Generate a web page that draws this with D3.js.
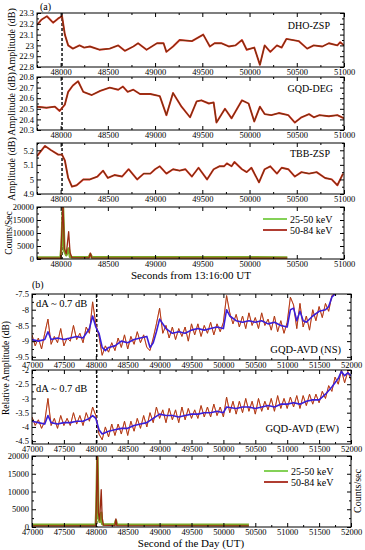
<!DOCTYPE html>
<html>
<head>
<meta charset="utf-8">
<script src="https://cdnjs.cloudflare.com/ajax/libs/d3/7.8.5/d3.min.js"></script>
<style>
body { margin: 0; background: #fff; }
svg { display: block; font-family: "Liberation Serif", "DejaVu Serif", serif; }
.axis text { font-size: 8.5px; fill: #000; font-family: "Liberation Serif", serif; }
.axis line { stroke: #000; }
</style>
</head>
<body>
<svg width="365" height="550"></svg>
<script>
// ---- panel (a): amplitudes, seconds from 13:16:00 UT ----
const aTicks = [48000, 48500, 49000, 49500, 50000, 50500, 51000];

const dhoT = [47750, 47800, 47855, 47920, 47975, 48015, 48045, 48080, 48130, 48200, 48250, 48310, 48410, 48520, 48610, 48680, 48770, 48820, 48910, 49020, 49090, 49120, 49190, 49260, 49390, 49510, 49580, 49630, 49700, 49780, 49850, 49920, 49970, 50050, 50110, 50160, 50220, 50290, 50340, 50390, 50520, 50610, 50680, 50770, 50840, 50930, 50960, 51000];
const dhoV = [23.19, 23.24, 23.27, 23.21, 23.25, 23.27, 23.1, 23.0, 22.97, 23.0, 22.98, 22.99, 22.96, 22.97, 23.0, 22.95, 22.99, 23.02, 22.96, 23.02, 23.02, 22.94, 22.99, 23.05, 23.04, 23.1, 22.99, 23.02, 23.02, 22.99, 23.0, 23.05, 22.96, 22.98, 22.82, 23.0, 22.94, 23.0, 22.98, 23.06, 23.04, 22.97, 23.0, 22.99, 23.02, 23.0, 23.03, 23.0];

const degT = [47750, 47850, 47940, 47990, 48045, 48080, 48130, 48185, 48240, 48330, 48420, 48520, 48610, 48660, 48710, 48770, 48840, 48950, 49050, 49120, 49190, 49280, 49370, 49440, 49490, 49570, 49620, 49650, 49740, 49810, 49920, 49990, 50050, 50110, 50160, 50230, 50310, 50410, 50480, 50550, 50630, 50680, 50740, 50840, 50930, 51000];
const degV = [20.52, 20.51, 20.52, 20.48, 20.54, 20.66, 20.72, 20.76, 20.66, 20.63, 20.67, 20.7, 20.68, 20.71, 20.66, 20.68, 20.64, 20.64, 20.62, 20.44, 20.65, 20.52, 20.42, 20.57, 20.58, 20.55, 20.56, 20.37, 20.5, 20.41, 20.58, 20.55, 20.38, 20.52, 20.45, 20.44, 20.46, 20.44, 20.37, 20.42, 20.45, 20.42, 20.44, 20.43, 20.44, 20.41];

const tbbT = [47750, 47835, 47900, 47975, 48015, 48045, 48080, 48120, 48170, 48240, 48310, 48390, 48450, 48500, 48570, 48650, 48720, 48810, 48880, 48950, 49000, 49050, 49120, 49190, 49260, 49320, 49390, 49460, 49550, 49620, 49680, 49730, 49760, 49810, 49840, 49920, 49970, 50020, 50100, 50160, 50220, 50290, 50340, 50410, 50480, 50550, 50630, 50710, 50800, 50870, 50930, 50990];
const tbbV = [5.16, 5.23, 5.2, 5.17, 5.17, 5.13, 5.01, 4.95, 4.96, 5.0, 5.0, 5.02, 5.06, 5.01, 5.03, 5.02, 5.07, 5.0, 5.04, 5.04, 5.07, 5.09, 5.04, 5.07, 5.06, 5.07, 5.02, 5.08, 5.0, 5.07, 5.09, 5.09, 5.11, 5.09, 5.12, 5.07, 5.05, 5.08, 4.98, 5.07, 5.09, 5.04, 5.08, 5.07, 5.02, 5.05, 5.04, 5.05, 5.01, 5.0, 4.96, 5.04];

// hard x-ray counts (same flare in both panels)
const hxrT    = [47000, 48000, 48010, 48025, 48040, 48060, 48072, 48085, 48100, 48120, 48300, 48315, 48330, 50400];
const hxrLow  = [600, 600, 5000, 19500, 3000, 1500, 2500, 4000, 900, 700, 700, 1800, 700, 600];
const hxrHigh = [300, 300, 8000, 21000, 4000, 2000, 6000, 10500, 2500, 500, 400, 2300, 400, 300];

// ---- panel (b): GQD-AVD relative amplitude, second of the day ----
const bTicks = [47000, 47500, 48000, 48500, 49000, 49500, 50000, 50500, 51000, 51500, 52000];

const nsBlueT = [47000, 47100, 47200, 47250, 47300, 47400, 47500, 47600, 47700, 47800, 47900, 47950, 48000, 48050, 48100, 48150, 48200, 48300, 48400, 48500, 48600, 48700, 48800, 48850, 48900, 48950, 49000, 49100, 49200, 49300, 49400, 49500, 49600, 49700, 49800, 49900, 50000, 50050, 50100, 50200, 50300, 50400, 50500, 50600, 50700, 50800, 50900, 51000, 51050, 51100, 51150, 51200, 51250, 51300, 51400, 51500, 51600, 51650, 51700, 51750];
const nsBlueV = [-8.95, -9.0, -8.95, -8.7, -8.95, -8.9, -8.95, -8.9, -8.85, -8.9, -8.6, -8.2, -8.55, -8.75, -9.2, -9.3, -9.2, -9.15, -9.0, -9.05, -8.95, -8.9, -8.85, -9.2, -9.05, -8.7, -8.3, -8.6, -8.75, -8.7, -8.75, -8.65, -8.6, -8.65, -8.6, -8.55, -8.6, -8.0, -8.2, -8.35, -8.4, -8.35, -8.4, -8.35, -8.45, -8.4, -8.5, -8.55, -8.0, -7.95, -8.35, -8.05, -8.35, -8.4, -8.2, -8.05, -8.0, -7.9, -7.6, -7.5];
const nsRedV = [-8.8, -9.15, -8.9, -9.25, -8.75, -8.3, -9.1, -8.85, -9.05, -8.6, -9.15, -8.9, -9.0, -8.5, -8.95, -8.75, -9.05, -8.55, -8.75, -7.75,
  -8.45, -8.85, -9.45, -9.15, -9.35, -9.05, -9.3, -8.9, -9.2, -8.8, -9.25, -8.85, -9.1, -8.7, -9.05, -8.8, -9.2, -9.3, -8.9, -8.45,
  -7.95, -8.75, -8.5, -8.9, -8.55, -8.95, -8.6, -8.85, -8.55, -9.0, -8.45, -8.8, -8.45, -8.85, -8.5, -8.75, -8.4, -8.8, -8.45, -8.7,
  -8.4, -7.55, -8.1, -8.45, -8.15, -8.55, -8.2, -8.6, -8.1, -8.5, -8.25, -8.6, -8.1, -8.5, -8.3, -8.65, -8.2, -8.7, -8.35, -8.75,
  -8.4, -7.6, -7.85, -8.6, -7.8, -8.55, -8.2, -8.65, -8.0, -8.35, -7.9, -8.25, -7.8, -8.05, -7.55, -7.5];
const nsRedT = d3.range(47000, 51751, 50);

const ewBlueT = [47000, 47100, 47200, 47250, 47300, 47400, 47500, 47600, 47700, 47800, 47900, 47950, 48000, 48050, 48100, 48200, 48300, 48400, 48500, 48600, 48700, 48800, 48900, 49000, 49100, 49200, 49300, 49400, 49500, 49600, 49700, 49800, 49900, 50000, 50050, 50200, 50300, 50400, 50500, 50600, 50700, 50800, 50900, 51000, 51100, 51200, 51300, 51400, 51500, 51600, 51700, 51800, 51850, 51900, 51950, 52000];
const ewBlueV = [-3.8, -3.85, -3.9, -3.6, -3.85, -3.9, -3.85, -3.85, -3.8, -3.8, -3.7, -3.6, -3.7, -4.1, -4.25, -4.15, -4.1, -4.05, -4.05, -3.95, -3.9, -3.85, -3.7, -3.55, -3.6, -3.6, -3.65, -3.6, -3.55, -3.55, -3.5, -3.5, -3.45, -3.5, -3.3, -3.35, -3.3, -3.3, -3.35, -3.3, -3.25, -3.3, -3.2, -3.2, -3.15, -3.2, -3.1, -3.05, -3.05, -2.85, -2.6, -2.3, -2.05, -2.2, -2.1, -2.2];
const ewRedV = [-3.65, -3.95, -3.75, -4.05, -3.8, -3.0, -3.95, -3.7, -4.05, -3.6, -3.95, -3.7, -3.95, -3.5, -3.9, -3.6, -3.95, -3.5, -3.8, -3.3,
  -3.6, -4.25, -4.45, -4.0, -4.35, -3.9, -4.3, -3.9, -4.25, -3.8, -4.3, -3.8, -4.15, -3.7, -4.05, -3.6, -4.0, -3.5, -3.85, -3.3,
  -3.7, -3.4, -3.85, -3.35, -3.75, -3.4, -3.85, -3.3, -3.75, -3.35, -3.7, -3.4, -3.7, -3.25, -3.65, -3.3, -3.65, -3.2, -3.6, -3.3,
  -3.65, -2.95, -3.5, -3.1, -3.55, -3.1, -3.5, -3.0, -3.45, -3.1, -3.55, -3.0, -3.45, -3.1, -3.4, -3.0, -3.45, -2.9, -3.35, -3.0,
  -3.35, -2.95, -3.3, -2.9, -3.35, -2.9, -3.25, -2.85, -3.2, -2.85, -3.15, -2.75, -3.0, -2.55, -2.75, -2.25, -2.5, -2.0, -2.45, -2.05, -2.35];
const ewRedT = d3.range(47000, 52001, 50);

const onsetT = 48015;

const svg = d3.select("svg");
let clipId = 0;

function panel(o) {
  const x = d3.scaleLinear().domain(o.xd).range([o.left, o.right]);
  const y = d3.scaleLinear().domain(o.yd).range([o.bottom, o.top]);
  const g = svg.append("g");
  const id = "clip" + (clipId++);
  g.append("clipPath").attr("id", id).append("rect")
    .attr("x", o.left).attr("y", o.top)
    .attr("width", o.right - o.left).attr("height", o.bottom - o.top);
  const plot = g.append("g").attr("clip-path", `url(#${id})`);

  // ticks inside, on all four sides
  const ax = (gen, tx, ty) => g.append("g").attr("class", "axis")
    .attr("transform", `translate(${tx},${ty})`).call(gen)
    .call(s => s.select(".domain").remove());
  ax(d3.axisBottom(x).tickValues(o.xt).tickSize(-4).tickPadding(2).tickFormat(d3.format("d")), 0, o.bottom);
  ax(d3.axisBottom(x).tickValues(o.xm).tickSize(-2).tickFormat(""), 0, o.bottom);
  ax(d3.axisTop(x).tickValues(o.xt).tickSize(-4).tickFormat(""), 0, o.top);
  ax(d3.axisTop(x).tickValues(o.xm).tickSize(-2).tickFormat(""), 0, o.top);
  ax(d3.axisLeft(y).tickValues(o.yt).tickSize(-4).tickPadding(3).tickFormat(d => String(+d.toFixed(2))), o.left, 0);
  ax(d3.axisLeft(y).tickValues(o.ym).tickSize(-2).tickFormat(""), o.left, 0);
  ax(d3.axisRight(y).tickValues(o.yt).tickSize(-4).tickFormat(""), o.right, 0);
  ax(d3.axisRight(y).tickValues(o.ym).tickSize(-2).tickFormat(""), o.right, 0);
  g.selectAll(".axis text").style("font-size", "8.5px");

  g.append("rect").attr("x", o.left).attr("y", o.top)
    .attr("width", o.right - o.left).attr("height", o.bottom - o.top)
    .attr("fill", "none").attr("stroke", "#000").attr("stroke-width", 1);

  plot.append("line")
    .attr("x1", x(onsetT)).attr("x2", x(onsetT))
    .attr("y1", o.top).attr("y2", o.bottom)
    .attr("stroke", "#000").attr("stroke-width", 1.4).attr("stroke-dasharray", "3,2");
  return { x, y, g, plot };
}

function drawLine(p, ts, vs, color, w) {
  const line = d3.line().x((d, i) => p.x(ts[i])).y(d => p.y(d));
  p.plot.append("path").datum(vs).attr("d", line)
    .attr("fill", "none").attr("stroke", color).attr("stroke-width", w)
    .attr("stroke-linejoin", "round");
}

function ampLine(p, ts, vs) {
  drawLine(p, ts, vs, "#d8261a", 1.9);
  drawLine(p, ts, vs, "#5e3a10", 0.9);
}

function label(txt, x, y, size, anchor, rot) {
  const t = svg.append("text").text(txt).attr("font-size", size)
    .attr("text-anchor", anchor || "start");
  if (rot) t.attr("transform", `translate(${x},${y}) rotate(${rot})`);
  else t.attr("x", x).attr("y", y);
  return t;
}

function legend(lx, ly) {
  const items = [["25-50 keV", "#77cc44"], ["50-84 keV", "#a8281a"]];
  items.forEach(([txt, c], i) => {
    svg.append("line").attr("x1", lx).attr("x2", lx + 24)
      .attr("y1", ly + i * 11).attr("y2", ly + i * 11)
      .attr("stroke", c).attr("stroke-width", 1.8);
    label(txt, lx + 27, ly + i * 11 + 3.5, "10px");
  });
}

function hxr(p) {
  drawLine(p, hxrT, hxrLow, "#7aa828", 2.6);
  drawLine(p, hxrT, hxrHigh, "#9a2a12", 1.3);
}

// ---------- panel (a) ----------
const aMinor = [47750, 48250, 48750, 49250, 49750, 50250, 50750];
const aBase = { xd: [47750, 51000], left: 37, right: 344, xt: aTicks, xm: aMinor };

const p1 = panel(Object.assign({}, aBase, { top: 13, bottom: 67, yd: [22.8, 23.3],
  yt: [22.8, 22.9, 23.0, 23.1, 23.2, 23.3], ym: [22.85, 22.95, 23.05, 23.15, 23.25] }));
ampLine(p1, dhoT, dhoV);

const p2 = panel(Object.assign({}, aBase, { top: 77, bottom: 130, yd: [20.3, 20.8],
  yt: [20.3, 20.4, 20.5, 20.6, 20.7, 20.8], ym: [20.35, 20.45, 20.55, 20.65, 20.75] }));
ampLine(p2, degT, degV);

const p3 = panel(Object.assign({}, aBase, { top: 143, bottom: 194, yd: [4.9, 5.25],
  yt: [4.9, 5.0, 5.1, 5.2], ym: [4.95, 5.05, 5.15, 5.25] }));
ampLine(p3, tbbT, tbbV);

const p4 = panel(Object.assign({}, aBase, { top: 207, bottom: 259, yd: [0, 20000],
  yt: [0, 5000, 10000, 15000, 20000], ym: [2500, 7500, 12500, 17500] }));
hxr(p4);

label("(a)", 40, 10, "10px");
label("DHO-ZSP", 330, 29, "10px", "end");
label("GQD-DEG", 333, 92, "10px", "end");
label("TBB-ZSP", 330, 157, "10px", "end");
label("Amplitude (dB)", 15, 40, "10px", "middle", -90);
label("Amplitude (dB)", 15, 104, "10px", "middle", -90);
label("Amplitude (dB)", 15, 169, "10px", "middle", -90);
label("Counts/Sec", 12, 233, "9.5px", "middle", -90);
legend(263, 219);
label("Seconds from 13:16:00 UT", 191, 279, "11px", "middle");

// ---------- panel (b) ----------
const bMinor = [47250, 47750, 48250, 48750, 49250, 49750, 50250, 50750, 51250, 51750];
const bBase = { xd: [47000, 52000], left: 32, right: 351, xt: bTicks, xm: bMinor };

const b1 = panel(Object.assign({}, bBase, { top: 294, bottom: 360, yd: [-9.6, -7.5],
  yt: [-9.5, -9, -8.5, -8, -7.5], ym: [-9.25, -8.75, -8.25, -7.75] }));
drawLine(b1, nsRedT, nsRedV, "#e0301c", 1.0);
drawLine(b1, nsRedT, nsRedV, "#7a4a10", 0.45);
drawLine(b1, nsBlueT, nsBlueV, "#3a1fd8", 1.6);

const b2 = panel(Object.assign({}, bBase, { top: 370, bottom: 444, yd: [-4.6, -2],
  yt: [-4.5, -4, -3.5, -3, -2.5, -2], ym: [-4.25, -3.75, -3.25, -2.75, -2.25] }));
drawLine(b2, ewRedT, ewRedV, "#e0301c", 1.0);
drawLine(b2, ewRedT, ewRedV, "#7a4a10", 0.45);
drawLine(b2, ewBlueT, ewBlueV, "#3a1fd8", 1.6);

const b3 = panel(Object.assign({}, bBase, { top: 456, bottom: 527, yd: [0, 20000],
  yt: [0, 5000, 10000, 15000, 20000], ym: [2500, 7500, 12500, 17500] }));
hxr(b3);

label("(b)", 32, 288, "10px");
label("dA ~ 0.7 dB", 36, 307, "10.5px");
label("dA ~ 0.7 dB", 36, 392, "10.5px");
label("GQD-AVD (NS)", 341, 353, "10.5px", "end");
label("GQD-AVD (EW)", 339, 432, "10.5px", "end");
label("Relative Amplitude (dB)", 9, 368, "9.5px", "middle", -90);
label("Counts/sec", 361, 491, "10px", "middle", -90);
legend(264, 471);
label("Second of the Day (UT)", 191, 547, "11px", "middle");
</script>
</body>
</html>
